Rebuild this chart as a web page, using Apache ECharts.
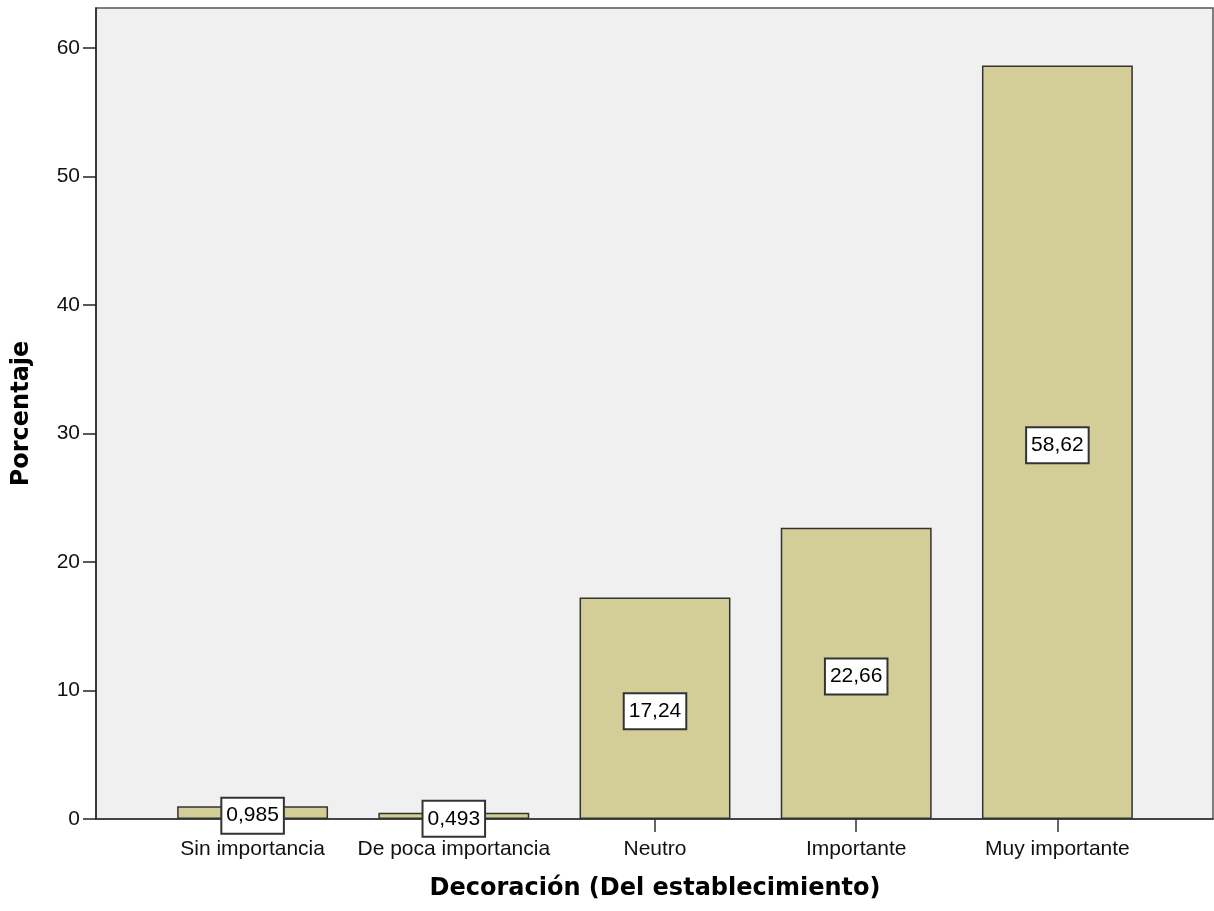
<!DOCTYPE html>
<html>
<head>
<meta charset="utf-8">
<script src="https://cdn.jsdelivr.net/npm/echarts@6/dist/echarts.min.js"></script>
<style>
  html, body { margin: 0; padding: 0; background: #fff; }
  #main { width: 1214px; height: 911px; }
</style>
</head>
<body>
<div id="main"></div>
<script>
// data
var categories = ['Sin importancia', 'De poca importancia', 'Neutro', 'Importante', 'Muy importante'];
var percentages = [0.985, 0.493, 17.24, 22.66, 58.62];
var yTicks = [0, 10, 20, 30, 40, 50, 60];
var yMax = 63.1;

var labelFont = '"Liberation Sans", Arial, sans-serif';
var titleFont = '"DejaVu Sans", Verdana, sans-serif';

var myChart = echarts.init(document.getElementById('main'));
myChart.setOption({
    animation: false,
    backgroundColor: '#ffffff',
    grid: [
        // plot frame
        {left: 96, right: 1, top: 8, bottom: 92, show: true,
         backgroundColor: '#f0f0f0', borderColor: '#555', borderWidth: 1.5},
        // bars
        {left: 152, right: 56, top: 8, bottom: 92}
    ],
    xAxis: [
        {
            gridIndex: 0, type: 'value', min: 0, max: 1,
            axisLine: {show: true, lineStyle: {color: '#333', width: 1.5}},
            axisTick: {show: false}, axisLabel: {show: false}, splitLine: {show: false}
        },
        {
            gridIndex: 1, type: 'category', data: categories,
            axisLine: {show: false},
            axisTick: {show: true, alignWithLabel: true, interval: 0, length: 13, lineStyle: {color: '#333', width: 1.5}},
            axisLabel: {interval: 0, margin: 20, fontSize: 21, color: '#111', fontFamily: labelFont},
            name: 'Decoración (Del establecimiento)',
            nameLocation: 'middle', nameGap: 58,
            nameTextStyle: {fontSize: 24, fontWeight: 'bold', color: '#000', fontFamily: titleFont}
        }
    ],
    yAxis: [
        {
            gridIndex: 0, type: 'value', min: 0, max: yMax,
            axisLine: {show: true, lineStyle: {color: '#222', width: 1.5}},
            axisTick: {show: true, length: 13, customValues: yTicks, lineStyle: {color: '#222', width: 1.5}},
            axisLabel: {customValues: yTicks, margin: 16, fontSize: 21, color: '#111', fontFamily: labelFont},
            splitLine: {show: false},
            name: 'Porcentaje',
            nameLocation: 'middle', nameGap: 62,
            nameTextStyle: {fontSize: 24, fontWeight: 'bold', color: '#000', fontFamily: titleFont}
        },
        {
            gridIndex: 1, type: 'value', min: 0, max: yMax, show: false
        }
    ],
    series: [
        {
            type: 'bar',
            xAxisIndex: 1,
            yAxisIndex: 1,
            barCategoryGap: '25%',
            data: percentages,
            itemStyle: {color: '#d3ce97', borderColor: '#333', borderWidth: 1.5},
            label: {
                show: true,
                position: 'inside',
                offset: [0, 3],
                formatter: function (p) { return String(p.value).replace('.', ','); },
                fontSize: 21,
                fontFamily: labelFont,
                color: '#000',
                backgroundColor: '#ffffff',
                borderColor: '#333',
                borderWidth: 2,
                padding: [7, 4, 6, 4]
            }
        }
    ]
});
</script>
</body>
</html>
